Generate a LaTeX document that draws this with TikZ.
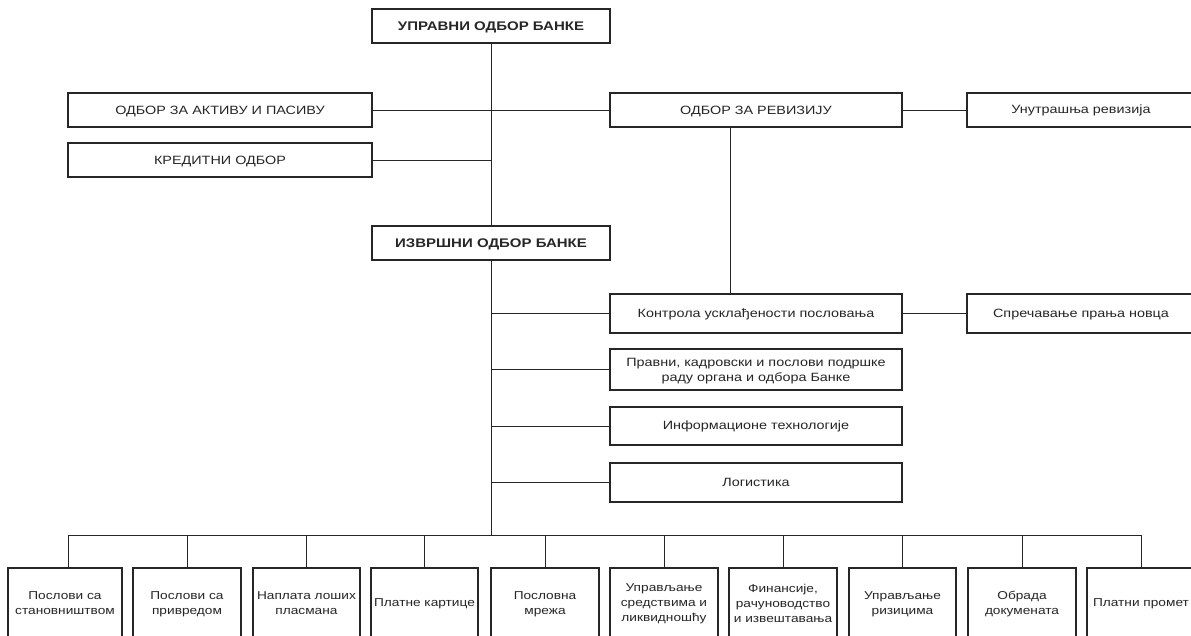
\documentclass[tikz,border=0pt]{standalone}
\usepackage{fontspec}
\setmainfont[FakeStretch=1.2]{Liberation Sans}
\begin{document}
\begin{tikzpicture}[x=1pt,y=-1pt,
  box/.style={draw=black!85, line width=1.1pt, rectangle, inner sep=0pt, align=center,
    font=\fontsize{12}{15}\selectfont, text=black!85},
  caps/.style={box, text height=8.6pt, text depth=0pt},
  lower/.style={box, text height=7pt, text depth=0pt},
  multi/.style={box, text depth=0pt},
  bcaps/.style={caps, font=\fontsize{12.5}{15}\selectfont\bfseries},
  bottom/.style={multi, font=\fontsize{11.4}{15}\selectfont, minimum height=70pt},
  link/.style={draw=black!85, line width=1pt}]
\useasboundingbox (0,0) rectangle (1191,635);
\fill[white] (0,0) rectangle (1191,635);
% top level
\node[bcaps, minimum width=238pt, minimum height=34pt] (top) at (491,26) {УПРАВНИ ОДБОР БАНКЕ};
\node[caps, minimum width=304pt, minimum height=34pt] (aktiv) at (220,110) {ОДБОР ЗА АКТИВУ И ПАСИВУ};
\node[caps, minimum width=304pt, minimum height=34pt] (kred) at (220,160) {КРЕДИТНИ ОДБОР};
\node[caps, minimum width=292pt, minimum height=34pt] (reviz) at (756,110) {ОДБОР ЗА РЕВИЗИЈУ};
\node[lower, minimum width=228pt, minimum height=34pt] (unut) at (1081,110) {Унутрашња ревизија};
\node[bcaps, minimum width=238pt, minimum height=34pt] (izvr) at (491,243) {ИЗВРШНИ ОДБОР БАНКЕ};
\node[lower, minimum width=292pt, minimum height=39pt] (kontr) at (756,313.5) {Контрола усклађености пословања};
\node[lower, minimum width=228pt, minimum height=39pt] (sprec) at (1081,313.5) {Спречавање прања новца};
\node[multi, minimum width=292pt, minimum height=41pt] (pravni) at (756,369.5) {Правни, кадровски и послови подршке\\раду органа и одбора Банке};
\node[lower, minimum width=292pt, minimum height=38pt] (info) at (756,426) {Информационе технологије};
\node[lower, minimum width=292pt, minimum height=39pt] (log) at (756,482.5) {Логистика};
% bottom row
\node[bottom, minimum width=114pt] (b1) at (65,603) {Послови са\\становништвом};
\node[bottom, minimum width=108pt] (b2) at (187,603) {Послови са\\привредом};
\node[bottom, minimum width=107pt] (b3) at (306.5,603) {Наплата лоших\\пласмана};
\node[bottom, minimum width=107pt] (b4) at (424.5,603) {Платне картице};
\node[bottom, minimum width=108pt] (b5) at (545,603) {Пословна\\мрежа};
\node[bottom, minimum width=108pt] (b6) at (664,603) {Управљање\\средствима и\\ликвидношћу};
\node[bottom, minimum width=108pt] (b7) at (783,603) {Финансије,\\рачуноводство\\и извештавања};
\node[bottom, minimum width=107pt] (b8) at (902.5,603) {Управљање\\ризицима};
\node[bottom, minimum width=108pt] (b9) at (1022,603) {Обрада\\докумената};
\node[bottom, minimum width=108pt] (b10) at (1141,603) {Платни промет};
\coordinate (bus) at (491,535);
% connectors
\draw[link] (top) -- (izvr);
\draw[link] (izvr) -- (bus);
\draw[link] (aktiv.east) -- (reviz.west);
\draw[link] (kred.east) -- (kred.east -| top.south);
\draw[link] (reviz.east) -- (unut.west);
\draw[link] ([xshift=-26pt]reviz.south) -- ([xshift=-26pt]kontr.north);
\draw[link] (kontr.east) -- (sprec.west);
\draw[link] (kontr.west) -- (kontr.west -| izvr.south);
\draw[link] (pravni.west) -- (pravni.west -| izvr.south);
\draw[link] (info.west) -- (info.west -| izvr.south);
\draw[link] (log.west) -- (log.west -| izvr.south);
\draw[link] (bus) -| ([xshift=3pt]b1.north);
\draw[link] (bus) -| (b10.north);
\foreach \b in {b2,b3,b4,b5,b6,b7,b8,b9} {\draw[link] (\b.north) -- (\b.north |- bus);}
\end{tikzpicture}
\end{document}
